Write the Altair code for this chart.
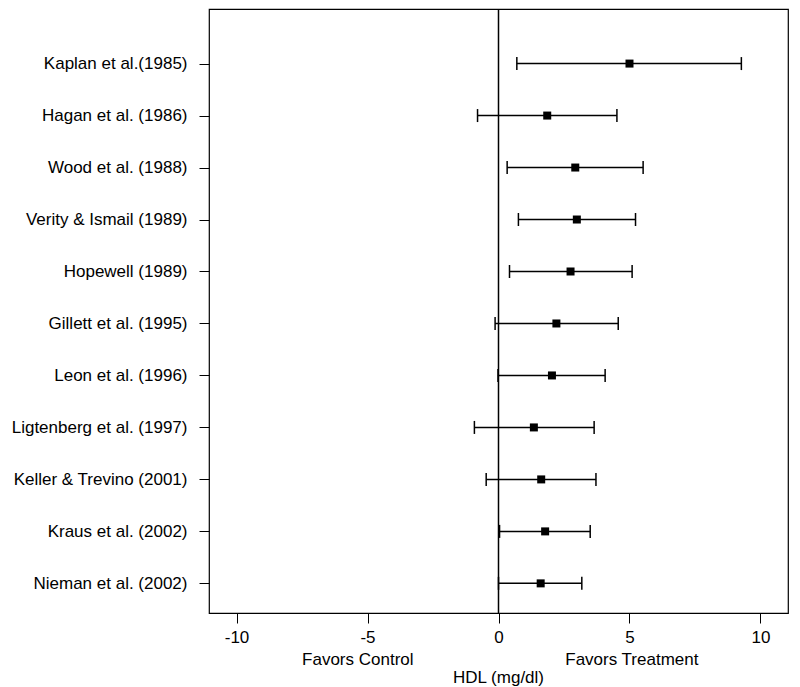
import json
import altair as alt
import pandas as pd

studies = [
    "Kaplan et al.(1985)",
    "Hagan et al. (1986)",
    "Wood et al. (1988)",
    "Verity & Ismail (1989)",
    "Hopewell (1989)",
    "Gillett et al. (1995)",
    "Leon et al. (1996)",
    "Ligtenberg et al. (1997)",
    "Keller & Trevino (2001)",
    "Kraus et al. (2002)",
    "Nieman et al. (2002)",
]
means = [5.00, 1.86, 2.93, 2.99, 2.75, 2.21, 2.04, 1.35, 1.63, 1.78, 1.61]
lower = [0.70, -0.80, 0.33, 0.76, 0.42, -0.13, -0.02, -0.92, -0.47, 0.04, 0.00]
upper = [9.27, 4.52, 5.52, 5.23, 5.10, 4.57, 4.07, 3.65, 3.72, 3.50, 3.18]
x_ticks = [-10, -5, 0, 5, 10]
side_labels = ["Favors Control", "Favors Treatment"]
side_pos = [-5.37, 5.09]
x_title = "HDL (mg/dl)"

FONT = "Liberation Sans"
n = len(studies)
df = pd.DataFrame({
    "study": studies,
    "row": [n - i for i in range(n)],
    "mean": means,
    "lower": lower,
    "upper": upper,
})
label_expr = json.dumps(list(reversed(studies))) + "[datum.value - 1]"

xscale = alt.Scale(domain=[-11.05, 11.05], nice=False, zero=False)
yscale = alt.Scale(domain=[0.43, 12.05], nice=False, zero=False)

base = alt.Chart(df)

bars = base.mark_rule(color="black", strokeWidth=1.5).encode(
    x=alt.X("lower:Q", scale=xscale, title=None,
            axis=alt.Axis(values=x_ticks, labelPadding=6,
                          labelExpr="'' + datum.value")),
    x2="upper:Q",
    y=alt.Y("row:Q", scale=yscale, title=None,
            axis=alt.Axis(values=list(range(1, n + 1)), labelExpr=label_expr,
                          labelPadding=12, labelBaseline="middle")),
)
caps_lo = base.mark_tick(orient="vertical", color="black", size=13, thickness=1.5, opacity=1).encode(
    x=alt.X("lower:Q", title=None), y=alt.Y("row:Q", title=None))
caps_hi = base.mark_tick(orient="vertical", color="black", size=13, thickness=1.5, opacity=1).encode(
    x=alt.X("upper:Q", title=None), y=alt.Y("row:Q", title=None))
points = base.mark_point(shape="square", filled=True, size=64, color="black", opacity=1).encode(
    x=alt.X("mean:Q", title=None), y=alt.Y("row:Q", title=None))

zero = alt.Chart(pd.DataFrame({"z": [0]})).mark_rule(color="black", strokeWidth=1.5).encode(
    x=alt.X("z:Q", title=None))

side = alt.Chart(pd.DataFrame({"label": side_labels, "pos": side_pos})).mark_text(
    font=FONT, fontSize=17, color="black", align="center", baseline="alphabetic"
).encode(x=alt.X("pos:Q", title=None), y=alt.value(656), text="label:N")

title = alt.Chart(pd.DataFrame({"t": [x_title], "p": [0]})).mark_text(
    font=FONT, fontSize=17, color="black", align="center", baseline="alphabetic"
).encode(x=alt.X("p:Q", title=None), y=alt.value(673.5), text="t:N")

chart = alt.layer(zero, bars, caps_lo, caps_hi, points, side, title).properties(
    width=579,
    height=604,
    autosize=alt.AutoSizeParams(type="none"),
    padding={"left": 201, "top": 1, "right": 4, "bottom": 74},
).configure_axis(
    labelFont=FONT, labelFontSize=17, labelColor="black",
    tickColor="black", tickSize=10, tickWidth=1, domain=False, grid=False,
).configure_view(stroke="black", strokeWidth=1.2)

chart.save("out.html", embed_options={"renderer": "svg", "actions": False})
